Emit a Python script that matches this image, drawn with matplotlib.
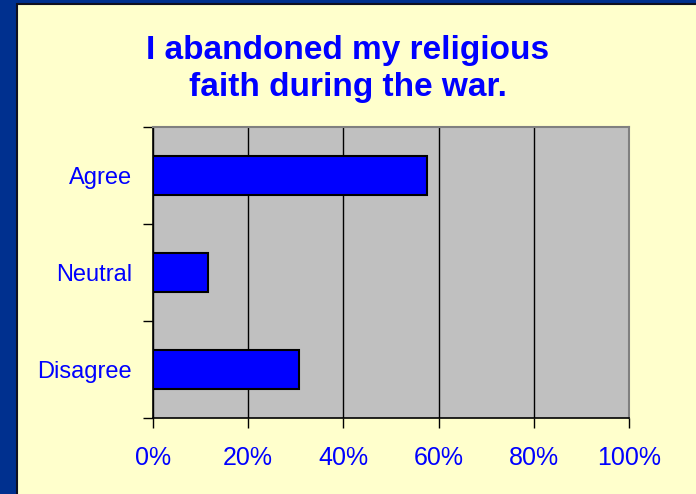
import numpy as np
import matplotlib.pyplot as plt
from matplotlib.patches import Rectangle

categories = ["Agree", "Neutral", "Disagree"]
values = [57.6, 11.6, 30.7]
xticks = [0, 20, 40, 60, 80, 100]
xtick_labels = ["0%", "20%", "40%", "60%", "80%", "100%"]
title = "I abandoned my religious\nfaith during the war."

W, H = 696, 494
fig = plt.figure(figsize=(W / 100, H / 100), dpi=100)
fig.patch.set_facecolor("#00308F")
plt.rcParams["font.family"] = ["Liberation Sans", "DejaVu Sans"]

# pale yellow panel with a thin dark border (behind the axes)
fig.patches.append(Rectangle((17 / W, -0.05), 1.1, 1.05 - 4 / H,
                             transform=fig.transFigure, facecolor="#FFFFCC",
                             edgecolor="#101020", linewidth=1.5, zorder=-5))

fig.text(348 / W, 1 - 69 / H, title, ha="center", va="center",
         fontsize=24, fontweight="bold", color="#0000FF", linespacing=1.22)

left, right, top, bottom = 153, 629, 127, 418
ax = fig.add_axes([left / W, 1 - bottom / H, (right - left) / W, (bottom - top) / H])
ax.set_facecolor("#C0C0C0")

y = np.arange(len(categories))[::-1]
ax.barh(y, values, height=0.4, color="#0000FF", edgecolor="black",
        linewidth=1.5, zorder=3)

ax.set_xlim(0, 100)
ax.set_ylim(-0.5, len(categories) - 0.5)
ax.set_xticks(xticks)
ax.set_xticklabels(xtick_labels)
ax.set_yticks(y)
ax.set_yticklabels(categories)
ax.set_yticks(np.arange(-0.5, len(categories)), minor=True)

ax.grid(axis="x", color="black", linewidth=1, zorder=1)
ax.tick_params(axis="x", length=7, width=1, pad=13, labelsize=18,
               labelcolor="#0000FF", direction="out")
ax.tick_params(axis="y", which="major", length=0, pad=15, labelsize=17,
               labelcolor="#0000FF")
ax.tick_params(axis="y", which="minor", length=7, width=1, direction="out")

for s in ["top", "right"]:
    ax.spines[s].set_color("#808080")
    ax.spines[s].set_linewidth(1.5)
for s in ["left", "bottom"]:
    ax.spines[s].set_color("black")
    ax.spines[s].set_linewidth(1.2)

fig.savefig("out.png", dpi=100)
